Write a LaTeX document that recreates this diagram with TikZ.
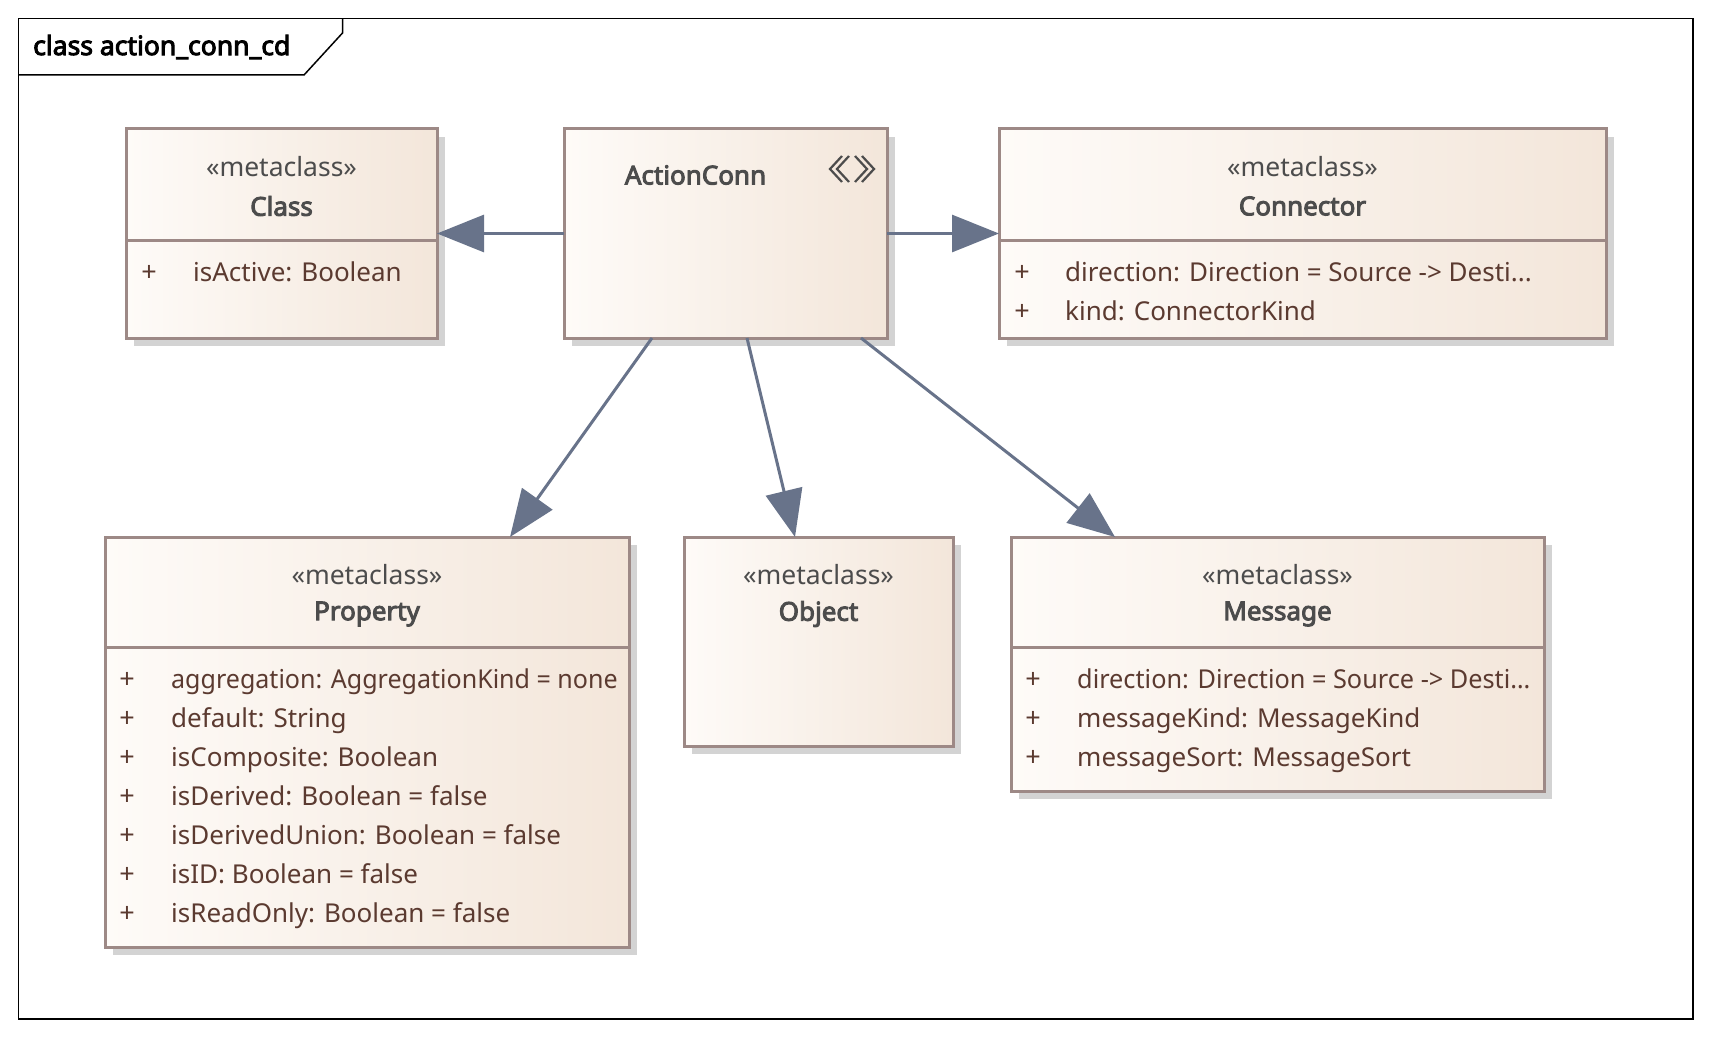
\documentclass[tikz,border=0pt]{standalone}
\usepackage{fontspec}
\setmainfont{Noto Sans}[AutoFakeBold=3.6]
\usetikzlibrary{arrows.meta,shadows}
\definecolor{boxleft}{HTML}{FEFBF8}
\definecolor{boxright}{HTML}{F3E6DA}
\definecolor{boxborder}{HTML}{9D8986}
\definecolor{boxshadow}{HTML}{D3D3D3}
\definecolor{linkcol}{HTML}{68738A}
\definecolor{namecol}{HTML}{4C4C4C}
\definecolor{attrcol}{HTML}{5B3A30}
\newcommand{\AttrGap}{39}
\newcommand{\CutDots}{...}
\tikzset{
  umlbox/.style={draw=boxborder, line width=3pt, left color=boxleft, right color=boxright,
    inner sep=0pt, outer sep=0pt, anchor=north west,
    drop shadow={shadow xshift=8pt, shadow yshift=-8pt, fill=boxshadow, opacity=1}},
  divider/.style={draw=boxborder, line width=3pt},
  stereo/.style={text=namecol, font=\fontsize{26.5}{30}\selectfont},
  classname/.style={text=namecol, font=\fontsize{26}{30}\selectfont\bfseries},
  attr/.style={text=attrcol, anchor=west, inner sep=0pt, text height=19pt, text depth=5pt,
    font=\fontsize{26}{30}\selectfont},
  squeezed/.style={transform shape, xscale=#1},
  plus/.style={text=attrcol, inner sep=0pt, text height=19pt, text depth=5pt,
    font=\fontsize{27}{30}\selectfont},
  gen/.style={draw=linkcol, line width=3pt, -{Triangle[length=47pt,width=37pt]}}
}
\begin{document}
\begin{tikzpicture}[x=1pt,y=-1pt]
\useasboundingbox (0,0) rectangle (1713,1038);

% frame
\draw[line width=1.5pt] (18.5,18.5) rectangle (1693,1019);
\draw[line width=1.5pt] (18.5,75) -- (304,75) -- (342.5,33) -- (342.5,18.5);
\node[anchor=west, inner sep=0pt, text=black, font=\fontsize{26.5}{30}\selectfont\bfseries] (title) at (33,47) {class action\_conn\_cd};

% boxes
\node[umlbox, minimum width=311pt, minimum height=209pt] (cls) at (126,129) {};
\node[umlbox, minimum width=323pt, minimum height=209pt] (act) at (564,129) {};
\node[umlbox, minimum width=607pt, minimum height=209pt] (con) at (999,129) {};
\node[umlbox, minimum width=524pt, minimum height=410pt] (prop) at (105,537) {};
\node[umlbox, minimum width=269pt, minimum height=209pt] (obj) at (684,537) {};
\node[umlbox, minimum width=533pt, minimum height=254pt] (msg) at (1011,537) {};

\draw[divider] (cls.west |- 0,240) -- (cls.east |- 0,240);
\draw[divider] (con.west |- 0,240) -- (con.east |- 0,240);
\draw[divider] (prop.west |- 0,647) -- (prop.east |- 0,647);
\draw[divider] (msg.west |- 0,647) -- (msg.east |- 0,647);

% Class
\node[stereo] (clsst) at (281.5,167) {«metaclass»};
\node[classname] (clsnm) at (281.5,206) {Class};
\node[plus] (clsp1) at (149,274.5) {+};
\node[attr] (clsa1) at (193,274.5) {isActive: Boolean};

% ActionConn
\node[classname] (actnm) at (695.5,175) {ActionConn};
\draw[namecol, line width=2.2pt] (842,156) -- (830,169) -- (842,182);
\draw[namecol, line width=2.2pt] (849,156) -- (837,169) -- (849,182);
\draw[namecol, line width=2.2pt] (855,156) -- (867,169) -- (855,182);
\draw[namecol, line width=2.2pt] (862,156) -- (874,169) -- (862,182);

% Connector
\node[stereo] (const) at (1302.5,167) {«metaclass»};
\node[classname] (connm) at (1302.5,206) {Connector};
\foreach \txt [count=\i from 0] in {{direction: Direction = Source -> Desti\CutDots},{kind: ConnectorKind}}
{
  \node[plus] (conp\i) at (1022,274.5+\i*\AttrGap) {+};
  \node[attr] (cona\i) at (1065,274.5+\i*\AttrGap) {\txt};
}

% Property
\node[stereo] (propst) at (367,575) {«metaclass»};
\node[classname] (propnm) at (367,614) {Property};
\foreach \txt [count=\i from 0] in {{aggregation: AggregationKind = none},{default: String},{isComposite: Boolean},{isDerived: Boolean = false},{isDerivedUnion: Boolean = false},{isID: Boolean = false},{isReadOnly: Boolean = false}}
{
  \node[plus] (propp\i) at (127,681.5+\i*\AttrGap) {+};
  \ifnum\i=0
    \node[attr, squeezed=0.963] (propa\i) at (171,681.5+\i*\AttrGap) {\txt};
  \else
    \node[attr] (propa\i) at (171,681.5+\i*\AttrGap) {\txt};
  \fi
}

% Object
\node[stereo] (objst) at (818.5,575) {«metaclass»};
\node[classname] (objnm) at (818.5,614) {Object};

% Message
\node[stereo] (msgst) at (1277.5,575) {«metaclass»};
\node[classname] (msgnm) at (1277.5,614) {Message};
\node[plus] (msgp0) at (1033,681.5) {+};
\node[attr, squeezed=0.972] (msga0) at (1077,681.5) {direction: Direction = Source -> Desti…};
\foreach \txt [count=\i from 1] in {{messageKind: MessageKind},{messageSort: MessageSort}}
{
  \node[plus] (msgp\i) at (1033,681.5+\i*\AttrGap) {+};
  \node[attr] (msga\i) at (1077,681.5+\i*\AttrGap) {\txt};
}

% generalizations
\draw[gen] (act.west) -- (cls.east);
\draw[gen] (act.east) -- (con.west);
\draw[gen] ([xshift=88pt]act.south west) -- ([xshift=405pt]prop.north west);
\draw[gen] ([xshift=183pt]act.south west) -- ([xshift=111pt]obj.north west);
\draw[gen] ([xshift=297pt]act.south west) -- ([xshift=104pt]msg.north west);
\end{tikzpicture}
\end{document}
